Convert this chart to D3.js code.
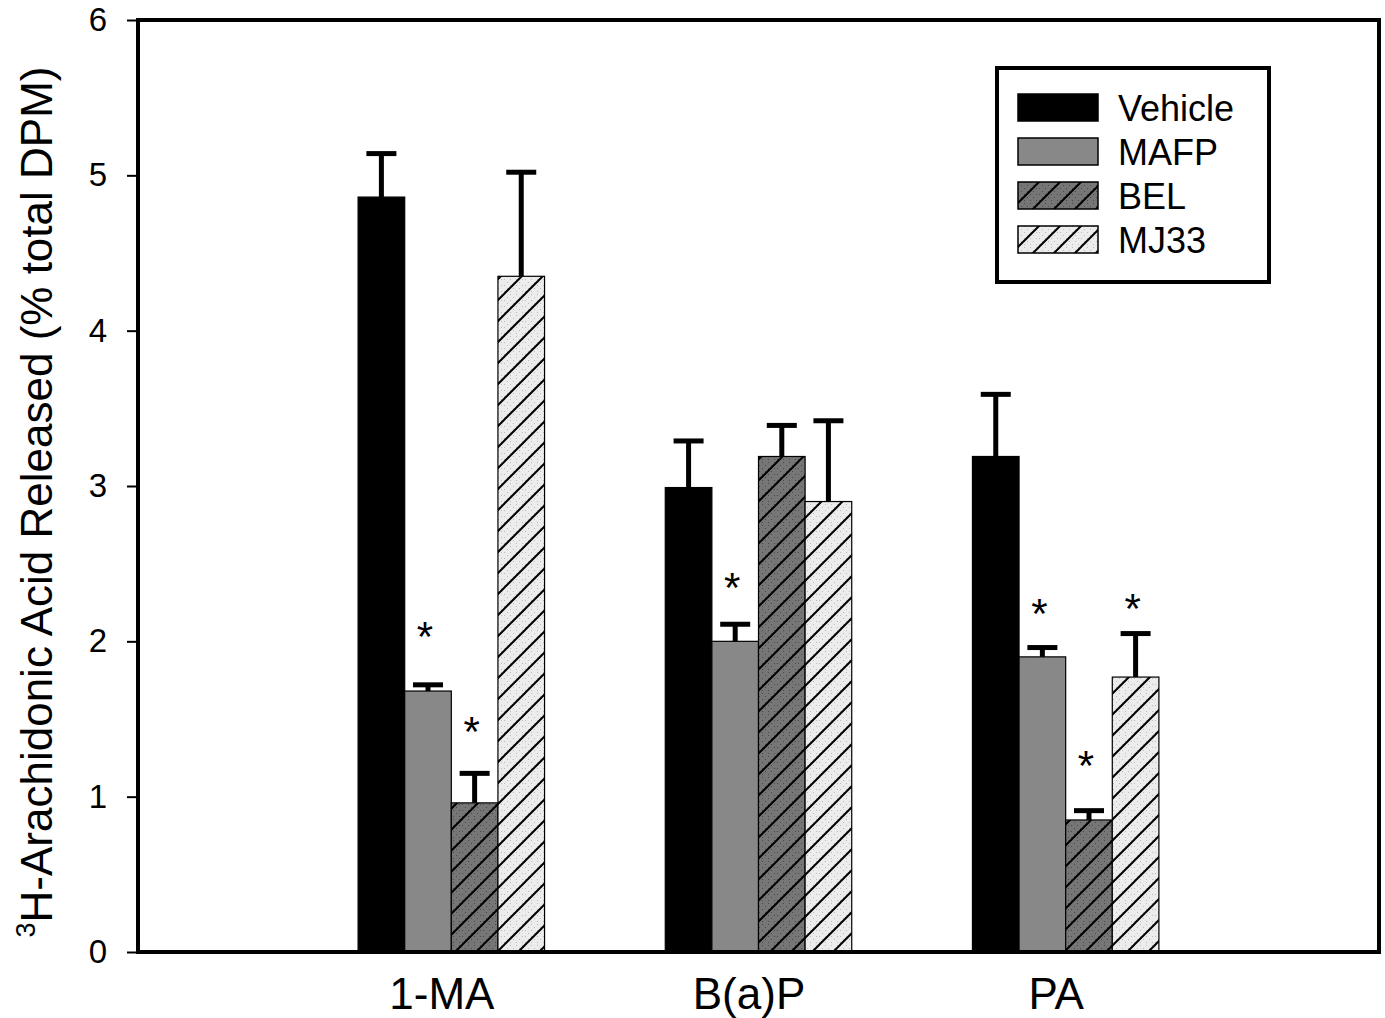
<!DOCTYPE html>
<html><head><meta charset="utf-8">
<script src="https://cdn.jsdelivr.net/npm/d3@7"></script>
<style>
html,body{margin:0;padding:0;background:#fff;}
svg{display:block;font-family:"Liberation Sans",Arial,sans-serif;}
</style></head>
<body>
<svg id="chart" width="1385" height="1018"></svg>
<script>
// ---- data ----
const categories = ["1-MA", "B(a)P", "PA"];
const seriesNames = ["Vehicle", "MAFP", "BEL", "MJ33"];
const vehicleMean = [4.86, 2.99, 3.19];
const mafpMean    = [1.68, 2.00, 1.90];
const belMean     = [0.96, 3.19, 0.85];
const mj33Mean    = [4.35, 2.90, 1.77];
const vehicleErr  = [0.28, 0.30, 0.40];
const mafpErr     = [0.04, 0.11, 0.06];
const belErr      = [0.19, 0.20, 0.06];
const mj33Err     = [0.67, 0.52, 0.28];
// asterisk (significance) heights, in data units; null = none
const vehicleStar = [null, null, null];
const mafpStar    = [2.09, 2.41, 2.24];
const belStar     = [1.48, null, 1.26];
const mj33Star    = [null, null, 2.27];
const yTicks = [0, 1, 2, 3, 4, 5, 6];
const yLabel = "H-Arachidonic Acid Released (% total DPM)";

const series = [
  {name: seriesNames[0], mean: vehicleMean, err: vehicleErr, star: vehicleStar, fill: "#000"},
  {name: seriesNames[1], mean: mafpMean, err: mafpErr, star: mafpStar, fill: "#888888"},
  {name: seriesNames[2], mean: belMean, err: belErr, star: belStar, fill: "url(#hatchDark)"},
  {name: seriesNames[3], mean: mj33Mean, err: mj33Err, star: mj33Star, fill: "url(#hatchLight)"}
];

// ---- layout ----
const svg = d3.select("#chart");
const L = 138, R = 1379, T = 20, B = 952;

const defs = svg.append("defs");
function hatch(id, bg, dot) {
  const p = defs.append("pattern").attr("id", id).attr("patternUnits", "userSpaceOnUse")
    .attr("width", 21).attr("height", 21);
  p.append("rect").attr("width", 21).attr("height", 21).attr("fill", bg);
  for (let i = 0; i < 7; i++) for (let j = 0; j < 7; j++) {
    if ((i + j) % 2 === 0) p.append("rect").attr("x", i * 3).attr("y", j * 3)
      .attr("width", 1).attr("height", 1).attr("fill", dot);
  }
  p.append("path").attr("d", "M-5,5 L5,-5 M0,21 L21,0 M16,26 L26,16")
    .attr("stroke", "#000").attr("stroke-width", 2).attr("fill", "none");
}
hatch("hatchDark", "#767676", "#4a4a4a");
hatch("hatchLight", "#ececec", "#bdbdbd");

const y = d3.scaleLinear().domain([0, 6]).range([B, T]);
const x0 = d3.scalePoint().domain(categories).range([L, R]).padding(1.02);
const step = x0.step();
const groupW = step * 0.607;
const x1 = d3.scaleBand().domain(seriesNames).range([-groupW / 2, groupW / 2]).padding(0);

// bars
const groups = svg.append("g").selectAll("g").data(series).join("g");
groups.each(function(s) {
  const g = d3.select(this);
  categories.forEach((c, i) => {
    const bx = x0(c) + x1(s.name);
    const bw = x1.bandwidth();
    const cx = bx + bw / 2;
    g.append("rect").attr("x", bx).attr("y", y(s.mean[i]))
      .attr("width", bw).attr("height", y(0) - y(s.mean[i]))
      .attr("fill", s.fill).attr("stroke", "#000").attr("stroke-width", 1.2);
    // error bar (upward)
    g.append("line").attr("x1", cx).attr("x2", cx)
      .attr("y1", y(s.mean[i])).attr("y2", y(s.mean[i] + s.err[i]))
      .attr("stroke", "#000").attr("stroke-width", 5);
    g.append("line").attr("x1", cx - 15).attr("x2", cx + 15)
      .attr("y1", y(s.mean[i] + s.err[i])).attr("y2", y(s.mean[i] + s.err[i]))
      .attr("stroke", "#000").attr("stroke-width", 5);
    if (s.star[i] != null) {
      g.append("text").attr("x", cx - 3).attr("y", y(s.star[i]) + 24)
        .attr("text-anchor", "middle").attr("font-size", 42).text("*");
    }
  });
});

// frame
svg.append("rect").attr("x", L).attr("y", T).attr("width", R - L).attr("height", B - T)
  .attr("fill", "none").attr("stroke", "#000").attr("stroke-width", 4);

// y axis
const yAxis = svg.append("g").attr("transform", `translate(${L},0)`)
  .call(d3.axisLeft(y).tickValues(yTicks).tickFormat(d3.format("d")).tickSize(11).tickPadding(20));
yAxis.select(".domain").remove();
yAxis.selectAll(".tick line").attr("stroke", "#000").attr("stroke-width", 2);
yAxis.selectAll(".tick text").attr("font-size", 33).attr("fill", "#000")
  .attr("font-family", "Liberation Sans, Arial, sans-serif");

// x axis labels
const xAxis = svg.append("g").attr("transform", `translate(0,${B})`)
  .call(d3.axisBottom(x0).tickSize(0).tickPadding(25));
xAxis.select(".domain").remove();
xAxis.selectAll(".tick text").attr("font-size", 44).attr("fill", "#000")
  .attr("dy", "0.72em").attr("dx", -10)
  .attr("font-family", "Liberation Sans, Arial, sans-serif");

// y title
const yt = svg.append("text")
  .attr("transform", `translate(52,${(T + B) / 2 + 16}) rotate(-90)`)
  .attr("text-anchor", "middle").attr("font-size", 44).attr("fill", "#000");
yt.append("tspan").attr("font-size", 27).attr("dy", -17).text("3");
yt.append("tspan").attr("dy", 17).text(yLabel);

// legend
const lg = svg.append("g").attr("transform", "translate(997,68)");
lg.append("rect").attr("width", 272).attr("height", 214)
  .attr("fill", "#fff").attr("stroke", "#000").attr("stroke-width", 4);
series.forEach((s, i) => {
  const row = lg.append("g").attr("transform", `translate(21,${26 + i * 44})`);
  row.append("rect").attr("width", 80).attr("height", 27)
    .attr("fill", s.fill).attr("stroke", "#000").attr("stroke-width", 1.5);
  row.append("text").attr("x", 100).attr("y", 27).attr("font-size", 36).attr("fill", "#000").text(s.name);
});
</script>
</body></html>
